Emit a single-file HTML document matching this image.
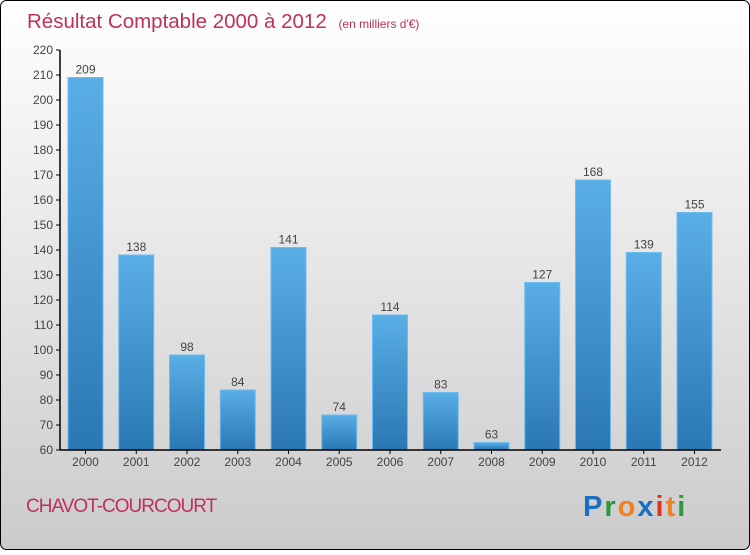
<!DOCTYPE html>
<html><head><meta charset="utf-8"><style>
body{margin:0;width:750px;height:550px;overflow:hidden;font-family:"Liberation Sans",sans-serif}
</style></head><body>
<svg id="c" width="750" height="550" xmlns="http://www.w3.org/2000/svg">
<defs>
<linearGradient id="bg" x1="0" y1="0" x2="0" y2="1"><stop offset="0" stop-color="#ffffff"/><stop offset="1" stop-color="#cbcbcb"/></linearGradient>
<linearGradient id="bar" x1="0" y1="0" x2="0" y2="1"><stop offset="0" stop-color="#5aaee6"/><stop offset="1" stop-color="#2a78b3"/></linearGradient>
</defs>
<rect x="0.5" y="0.5" width="749" height="549" rx="6" fill="url(#bg)" stroke="#000"/>
<text x="27" y="28" font-size="20.5" fill="#c0305a">Résultat Comptable 2000 à 2012 <tspan font-size="12" dx="6">(en milliers d'€)</tspan></text>
<text x="26" y="512" font-size="19" fill="#c0305a" letter-spacing="-1">CHAVOT-COURCOURT</text>
<text x="583" y="516" font-size="29" font-weight="bold" letter-spacing="2"><tspan fill="#1a6fc0">P</tspan><tspan fill="#2a9a3a">r</tspan><tspan fill="#f08020">o</tspan><tspan fill="#1a6fc0">x</tspan><tspan fill="#e03020">i</tspan><tspan fill="#f08020">t</tspan><tspan fill="#2a9a3a">i</tspan></text>
<g id="plot"></g>
</svg>
<script>
const years=["2000","2001","2002","2003","2004","2005","2006","2007","2008","2009","2010","2011","2012"];
const values=[209,138,98,84,141,74,114,83,63,127,168,139,155];
const yTicks=[60,70,80,90,100,110,120,130,140,150,160,170,180,190,200,210,220];
const NS="http://www.w3.org/2000/svg";
const g=document.getElementById('plot');
const y=v=>450-(v-60)*2.5;
const x=i=>85.5+i*50.75;
function mk(t,a){const e=document.createElementNS(NS,t);for(const k in a)e.setAttribute(k,a[k]);g.appendChild(e);return e;}
yTicks.forEach(v=>{
 const l=mk('line',{x1:56,x2:60,y1:y(v),y2:y(v),stroke:'#000'});
 
 
 const t=mk('text',{x:53,y:y(v)+4,'font-size':12,fill:'#444','text-anchor':'end'});
 t.textContent=v;
 
 
});
years.forEach((yr,i)=>{
 const v=values[i];
 const r=mk('rect',{x:x(i)-17.5,y:y(v),width:35,height:450-y(v),fill:'url(#bar)',stroke:'#6cbcf0','stroke-width':1});
 
 
 const t=mk('text',{x:x(i),y:y(v)-4,'font-size':12,fill:'#444','text-anchor':'middle'});
 t.textContent=v;
 
 
 const tk=mk('line',{x1:x(i),x2:x(i),y1:450,y2:454,stroke:'#000'});
 
 
 const xl=mk('text',{x:x(i),y:466,'font-size':12,fill:'#444','text-anchor':'middle'});
 xl.textContent=yr;
 
 
});
const ya=mk('line',{x1:60,x2:60,y1:50,y2:450,stroke:'#000','stroke-width':1.5});


const xa=mk('line',{x1:60,x2:721,y1:450,y2:450,stroke:'#000','stroke-width':1.5});


</script>
</body></html>
